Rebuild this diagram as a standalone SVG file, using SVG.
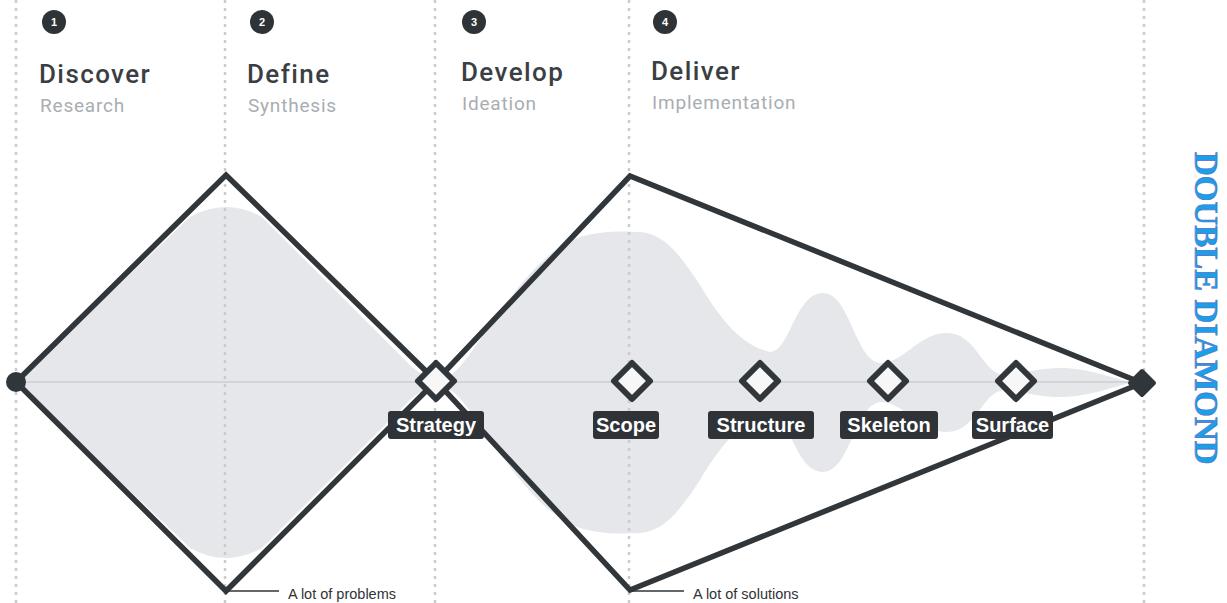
<svg xmlns="http://www.w3.org/2000/svg" width="1227" height="603" viewBox="0 0 1227 603">
<defs>
<style>
.grid{stroke:#c9cbcd;stroke-width:2.5;stroke-dasharray:3 5;fill:none}
.blob{fill:#e5e7ea}
.axis{stroke:#d2d4d6;stroke-width:2;fill:none}
.edge{stroke:#31363b;stroke-width:5.5;fill:none;stroke-linejoin:miter}
.node{fill:#f7f7f7;stroke:#31363b;stroke-width:6;stroke-linejoin:round}
.tag{fill:#2f3338}
.tagt{fill:#ffffff;font-family:"Liberation Sans",Arial,sans-serif;font-weight:bold;font-size:20px;text-anchor:middle}
.num{fill:#2f3338}
.numt{fill:#ffffff;font-family:"Liberation Sans",Arial,sans-serif;font-weight:bold;font-size:11px;text-anchor:middle}
.title{fill:#3b3f44;font-family:Roboto,"Liberation Sans",sans-serif;font-weight:500;font-size:26px;letter-spacing:1.4px}
.sub{fill:#a9adb2;font-family:Roboto,"Liberation Sans",sans-serif;font-size:19px;letter-spacing:0.8px}
.note{fill:#2f3338;font-family:"Liberation Sans",Arial,sans-serif;font-size:14.5px}
</style>
<path id="blobtop" d="M16,383 L190,217 Q226,197 262,217 L412,367 Q424,378 440,378 C455,378 465,360 480,340 C505,305 540,250 580,237 C600,231 620,231 640,232 C665,234 680,255 700,285 C720,318 740,345 770,352 C790,352 795,293 823,293 C850,293 855,360 880,363 C905,363 918,333 947,333 C976,333 982,372 1003,375 C1020,375 1035,368 1060,368 C1090,368 1110,378 1135,383 Z"/>
</defs>
<rect width="1227" height="603" fill="#ffffff"/>
<g id="blob">
<use href="#blobtop" class="blob"/>
<use href="#blobtop" class="blob" transform="translate(0,765) scale(1,-1)"/>
</g>
<g id="gridlines">
<line class="grid" x1="16" y1="0" x2="16" y2="603"/>
<line class="grid" x1="225" y1="0" x2="225" y2="603"/>
<line class="grid" x1="435" y1="0" x2="435" y2="603"/>
<line class="grid" x1="629" y1="0" x2="629" y2="603"/>
<line class="grid" x1="1144" y1="0" x2="1144" y2="603"/>
</g>
<g id="connectors">
<line class="axis" x1="16" y1="382" x2="1142" y2="382"/>
<path class="edge" d="M16,382 L226,175 L436,381 L630,590 L1142,383"/>
<path class="edge" d="M16,382 L226,591 L436,381 L630,176 L1142,383"/>
<line x1="228" y1="591" x2="279" y2="591" stroke="#2f3338" stroke-width="1.5"/>
<line x1="632" y1="591" x2="684" y2="591" stroke="#2f3338" stroke-width="1.5"/>
</g>
<g id="start"><circle cx="16" cy="382" r="10" fill="#31363b"/></g>
<g id="end"><polygon points="1142,371 1154,383 1142,395 1130,383" fill="#31363b" stroke="#31363b" stroke-width="4" stroke-linejoin="round"/></g>
<g id="strategy">
<polygon class="node" points="436,363 454,381 436,399 418,381"/>
<rect class="tag" x="388" y="411" width="96" height="28" rx="3"/>
<text class="tagt" x="436" y="432">Strategy</text>
</g>
<g id="scope">
<polygon class="node" points="632,363 650,381 632,399 614,381"/>
<rect class="tag" x="593" y="411" width="66" height="28" rx="3"/>
<text class="tagt" x="626" y="432">Scope</text>
</g>
<g id="structure">
<polygon class="node" points="760,363 778,381 760,399 742,381"/>
<rect class="tag" x="708" y="411" width="106" height="28" rx="3"/>
<text class="tagt" x="761" y="432">Structure</text>
</g>
<g id="skeleton">
<polygon class="node" points="888,363 906,381 888,399 870,381"/>
<rect class="tag" x="840" y="411" width="98" height="28" rx="3"/>
<text class="tagt" x="889" y="432">Skeleton</text>
</g>
<g id="surface">
<polygon class="node" points="1016,363 1034,381 1016,399 998,381"/>
<rect class="tag" x="972" y="411" width="81" height="28" rx="3"/>
<text class="tagt" x="1012.5" y="432">Surface</text>
</g>
<g id="phase1">
<circle class="num" cx="54" cy="22" r="12"/>
<text class="numt" x="54" y="26">1</text>
<text class="title" x="39" y="83">Discover</text>
<text class="sub" x="40" y="112">Research</text>
</g>
<g id="phase2">
<circle class="num" cx="262" cy="22" r="12"/>
<text class="numt" x="262" y="26">2</text>
<text class="title" x="247" y="83">Define</text>
<text class="sub" x="248" y="112">Synthesis</text>
</g>
<g id="phase3">
<circle class="num" cx="474" cy="22" r="12"/>
<text class="numt" x="474" y="26">3</text>
<text class="title" x="461" y="81">Develop</text>
<text class="sub" x="462" y="110">Ideation</text>
</g>
<g id="phase4">
<circle class="num" cx="665" cy="22" r="12"/>
<text class="numt" x="665" y="26">4</text>
<text class="title" x="651" y="80">Deliver</text>
<text class="sub" x="652" y="109">Implementation</text>
</g>
<g id="notes">
<text class="note" x="288" y="599">A lot of problems</text>
<text class="note" x="693" y="599">A lot of solutions</text>
</g>
<g id="sidetitle">
<text transform="translate(1195,152) rotate(90)" fill="#1aa0e8" stroke="#5d6fc2" stroke-width="0.6" font-family="'Liberation Serif','Times New Roman',serif" font-weight="bold" font-size="33px">DOUBLE DIAMOND</text>
</g>
</svg>
